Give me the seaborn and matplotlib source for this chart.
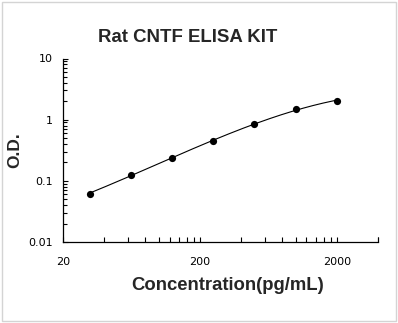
import numpy as np
import pandas as pd
import matplotlib
matplotlib.use('Agg')
import matplotlib.pyplot as plt
import seaborn as sns
from matplotlib.ticker import FixedLocator, NullFormatter, FixedFormatter
from matplotlib.patches import Rectangle

# standard curve
conc = [31.25, 62.5, 125, 250, 500, 1000, 2000]
od = [0.062, 0.125, 0.238, 0.446, 0.84, 1.48, 2.05]
x_major = [20, 200, 2000]
x_labels = ['20', '200', '2000']
y_major = [0.01, 0.1, 1, 10]
y_labels = ['0.01', '0.1', '1', '10']

df = pd.DataFrame({'conc': conc, 'od': od})

# smooth fit in log-log space
p = np.polyfit(np.log10(df['conc']), np.log10(df['od']), 3)
xs = np.logspace(np.log10(conc[0]), np.log10(conc[-1]), 200)
fit = pd.DataFrame({'conc': xs, 'od': 10 ** np.polyval(p, np.log10(xs))})

sns.set_style('ticks')
plt.rcParams['font.family'] = ['Liberation Sans', 'DejaVu Sans']

fig = plt.figure(figsize=(3.98, 3.23), dpi=100)
ax = fig.add_axes([63/398, 1-242/323, (378-63)/398, (242-58.5)/323])

sns.lineplot(data=fit, x='conc', y='od', ax=ax, color='black', linewidth=0.8)
sns.scatterplot(data=df, x='conc', y='od', ax=ax, color='black', s=27,
                edgecolor='black', linewidth=0, zorder=3)

ax.set_xscale('log')
ax.set_yscale('log')
ax.set_xlim(20, 4000)
ax.set_ylim(0.01, 10)

ax.xaxis.set_major_locator(FixedLocator(x_major))
ax.xaxis.set_major_formatter(FixedFormatter(x_labels))
xminor = [k * 20 * 10 ** d for d in range(3) for k in range(2, 10)] + [4000]
ax.xaxis.set_minor_locator(FixedLocator(xminor))
ax.xaxis.set_minor_formatter(NullFormatter())

ax.yaxis.set_major_locator(FixedLocator(y_major))
ax.yaxis.set_major_formatter(FixedFormatter(y_labels))
yminor = [k * 10.0 ** d for d in range(-2, 1) for k in range(2, 10)]
ax.yaxis.set_minor_locator(FixedLocator(yminor))
ax.yaxis.set_minor_formatter(NullFormatter())

for lab in ax.get_xticklabels() + ax.get_yticklabels():
    lab.set_family('DejaVu Sans')
ax.tick_params(axis='both', which='both', direction='in', color='black',
               width=0.8, labelsize=8, labelcolor='black')
ax.tick_params(axis='x', which='both', length=3.5, pad=11)
ax.tick_params(axis='y', which='major', length=3.5, pad=7)
ax.tick_params(axis='y', which='minor', length=2.8)

sns.despine(ax=ax)
for s in ['left', 'bottom']:
    ax.spines[s].set_color('black')
    ax.spines[s].set_linewidth(0.9)

ax.set_xlabel('')
ax.set_ylabel('')
fig.text(228/398, 1-285/323, 'Concentration(pg/mL)', ha='center', va='center',
         fontsize=13.3, fontweight='bold')
fig.text(15/398, 1-150/323, 'O.D.', ha='center', va='center', rotation=90,
         fontsize=12.5, fontweight='bold')
fig.text(188/398, 1-38/323, 'Rat CNTF ELISA KIT', ha='center', va='center',
         fontsize=13.4, fontweight='bold')

fig.patches.append(Rectangle((2/398, 2/323), 394/398, 319/323, transform=fig.transFigure,
                             fill=False, edgecolor='#d4d4d4', linewidth=1))

fig.savefig('out.png', dpi=100)
